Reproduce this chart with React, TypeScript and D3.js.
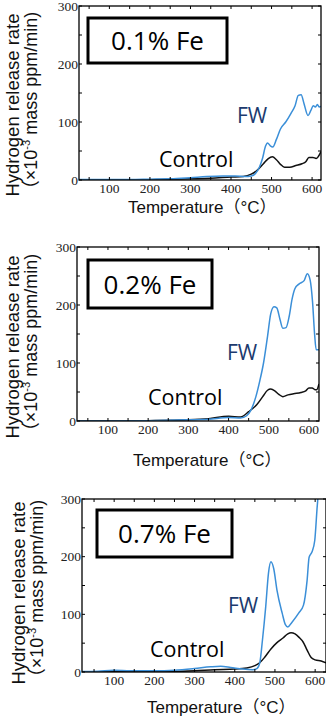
import React from "react";
import * as d3 from "d3";

const xTickValues = [50, 100, 150, 200, 250, 300, 350, 400, 450, 500, 550, 600];
const xTickLabels = [100, 200, 300, 400, 500, 600];
const yTickValues = [0, 50, 100, 150, 200, 250, 300];
const yTickLabels = [0, 100, 200, 300];

const panelTitles = ["0.1% Fe", "0.2% Fe", "0.7% Fe"];
const seriesNames = ["FW", "Control"];

const fw01: [number, number][] = [
  [25, 1], [60, 1], [100, 1], [150, 1], [200, 1.5], [250, 2], [300, 4], [340, 6], [380, 7], [410, 7],
  [435, 6], [450, 7], [460, 11], [470, 22], [478, 38], [485, 58], [490, 64], [497, 59], [503, 57],
  [512, 70], [522, 88], [535, 100], [548, 115], [558, 128], [566, 146], [573, 147], [580, 132],
  [590, 111], [597, 120], [603, 128], [608, 126], [613, 130], [618, 126], [622, 127],
];
const ctrl01: [number, number][] = [
  [25, 0], [100, 0], [200, 0.5], [300, 2], [350, 3], [400, 5], [430, 6], [450, 10], [465, 17],
  [480, 28], [492, 37], [502, 40], [512, 35], [522, 27], [532, 22], [545, 22], [560, 25], [575, 28],
  [585, 32], [592, 39], [602, 39], [610, 37], [615, 40], [622, 49],
];
const fw02: [number, number][] = [
  [23, 0], [100, 0], [200, 0.5], [300, 2], [350, 3], [400, 6], [430, 5], [445, 9], [455, 18],
  [468, 42], [478, 70], [487, 100], [497, 146], [505, 185], [513, 197], [520, 195], [528, 175],
  [535, 160], [543, 161], [551, 181], [558, 210], [565, 228], [575, 236], [588, 242], [596, 254],
  [603, 243], [609, 205], [614, 150], [618, 123], [625, 123],
];
const ctrl02: [number, number][] = [
  [23, 0], [100, 0], [200, 0.5], [300, 2], [350, 4], [400, 8], [430, 7], [450, 16], [470, 28],
  [485, 42], [497, 53], [505, 55], [515, 52], [525, 46], [535, 42], [548, 45], [562, 47], [580, 49],
  [592, 52], [600, 57], [608, 57], [615, 54], [619, 54], [625, 64],
];
const fw07: [number, number][] = [
  [20, 1], [60, 1.5], [100, 3], [140, 2], [200, 2], [250, 3], [300, 6], [340, 9], [365, 10],
  [390, 8], [420, 5], [445, 4], [455, 6], [462, 15], [469, 56], [477, 113], [484, 172], [490, 191],
  [497, 179], [505, 142], [518, 102], [526, 82], [532, 78], [542, 86], [559, 102], [571, 116],
  [580, 159], [585, 199], [592, 208], [599, 228], [605, 286], [609, 320],
];
const ctrl07: [number, number][] = [
  [20, 0], [100, 0.5], [200, 0.5], [300, 2], [350, 4], [400, 5], [430, 7], [450, 11], [462, 16],
  [475, 26], [490, 40], [505, 51], [520, 59], [532, 66], [540, 68], [550, 66], [560, 60], [570, 52],
  [580, 38], [590, 25], [600, 21], [615, 19], [627, 16],
];

const fwSeries = [fw01, fw02, fw07];
const ctrlSeries = [ctrl01, ctrl02, ctrl07];
const xDomains: [number, number][] = [[25, 622], [23, 625], [20, 627]];

// layout (pixels)
const layouts = [
  { left: 79, right: 321, top: 6, bottom: 180, yt1: 19, yt2: 37, ytc: 105, xtX: 128, xtY: 213,
    box: [88, 18, 139, 45], fw: [237, 123], ct: [159, 167] },
  { left: 77, right: 319, top: 247, bottom: 421, yt1: 19, yt2: 37, ytc: 347, xtX: 133, xtY: 466,
    box: [88, 260, 124, 48], fw: [227, 360], ct: [148, 405] },
  { left: 82, right: 326, top: 499, bottom: 672, yt1: 25, yt2: 43, ytc: 593, xtX: 147, xtY: 713,
    box: [97, 510, 135, 47], fw: [228, 613], ct: [150, 657] },
];

const FW_COLOR = "#3b8fd8";
const FW_TEXT = "#1c3a6e";
const SANS = "'Liberation Sans', Arial, 'Noto Sans CJK JP', sans-serif";
const SERIF = "'Liberation Serif', 'Times New Roman', serif";
const LABEL = "'Open Sans', 'Noto Sans', sans-serif";

function Panel({ i }: { i: number }) {
  const L = layouts[i];
  const x = d3.scaleLinear().domain(xDomains[i]).range([L.left, L.right]);
  const y = d3.scaleLinear().domain([0, 300]).range([L.bottom, L.top]);
  const line = d3
    .line<[number, number]>()
    .x((d) => x(d[0]))
    .y((d) => y(d[1]))
    .curve(d3.curveMonotoneX);
  const clipId = `clip${i}`;
  const tl = 3;
  return (
    <g>
      <defs>
        <clipPath id={clipId}>
          <rect x={L.left} y={L.top} width={L.right - L.left} height={L.bottom - L.top} />
        </clipPath>
      </defs>
      <g clipPath={`url(#${clipId})`}>
        <path d={line(ctrlSeries[i]) || ""} fill="none" stroke="#111" strokeWidth={1.5} />
        <path d={line(fwSeries[i]) || ""} fill="none" stroke={FW_COLOR} strokeWidth={1.5} />
      </g>
      <rect x={L.left} y={L.top} width={L.right - L.left} height={L.bottom - L.top}
        fill="none" stroke="#000" strokeWidth={1.3} />
      {xTickValues.map((t) => (
        <g key={"xt" + t}>
          <line x1={x(t)} x2={x(t)} y1={L.bottom} y2={L.bottom - tl} stroke="#000" strokeWidth={1} />
          <line x1={x(t)} x2={x(t)} y1={L.top} y2={L.top + tl} stroke="#000" strokeWidth={1} />
        </g>
      ))}
      {yTickValues.map((t) => (
        <g key={"yt" + t}>
          <line x1={L.left} x2={L.left + tl} y1={y(t)} y2={y(t)} stroke="#000" strokeWidth={1} />
          <line x1={L.right} x2={L.right - tl} y1={y(t)} y2={y(t)} stroke="#000" strokeWidth={1} />
        </g>
      ))}
      {xTickLabels.map((t) => (
        <text key={"xl" + t} x={x(t)} y={L.bottom + 13} textAnchor="middle"
          fontFamily={SERIF} fontSize={13.5} fill="#222">{t}</text>
      ))}
      {yTickLabels.map((t) => (
        <text key={"yl" + t} x={L.left - 1} y={y(t) + 4.5} textAnchor="end"
          fontFamily={SERIF} fontSize={13.5} fill="#222">{t}</text>
      ))}
      <text transform={`translate(${L.yt1},${L.ytc}) rotate(-90)`} textAnchor="middle"
        fontFamily={SANS} fontSize={18.5} fill="#111">Hydrogen release rate</text>
      <text transform={`translate(${L.yt2},${L.ytc}) rotate(-90)`} textAnchor="middle"
        fontFamily={SANS} fontSize={18} fill="#111">
        （×10<tspan dy={-7} fontSize={11}>-3</tspan><tspan dy={7}> mass ppm/min)</tspan>
      </text>
      <text x={L.xtX} y={L.xtY} fontFamily={SANS} fontSize={17} fill="#111">Temperature（°C）</text>
      <rect x={L.box[0]} y={L.box[1]} width={L.box[2]} height={L.box[3]} fill="#fff"
        stroke="#000" strokeWidth={3} />
      <text x={L.box[0] + L.box[2] / 2} y={L.box[1] + L.box[3] / 2 + 9.5} textAnchor="middle"
        fontFamily={LABEL} fontSize={26} fill="#000">{panelTitles[i]}</text>
      <text x={L.fw[0]} y={L.fw[1]} fontFamily={LABEL} fontSize={21} fill={FW_TEXT}>{seriesNames[0]}</text>
      <text x={L.ct[0]} y={L.ct[1]} fontFamily={LABEL} fontSize={21.5} fill="#000">{seriesNames[1]}</text>
    </g>
  );
}

export default function App() {
  return (
    <svg width={326} height={723} style={{ position: "absolute", left: 0, top: 0, background: "#fff" }}>
      <rect x={0} y={0} width={326} height={723} fill="#fff" />
      {[0, 1, 2].map((i) => (
        <Panel key={i} i={i} />
      ))}
    </svg>
  );
}
